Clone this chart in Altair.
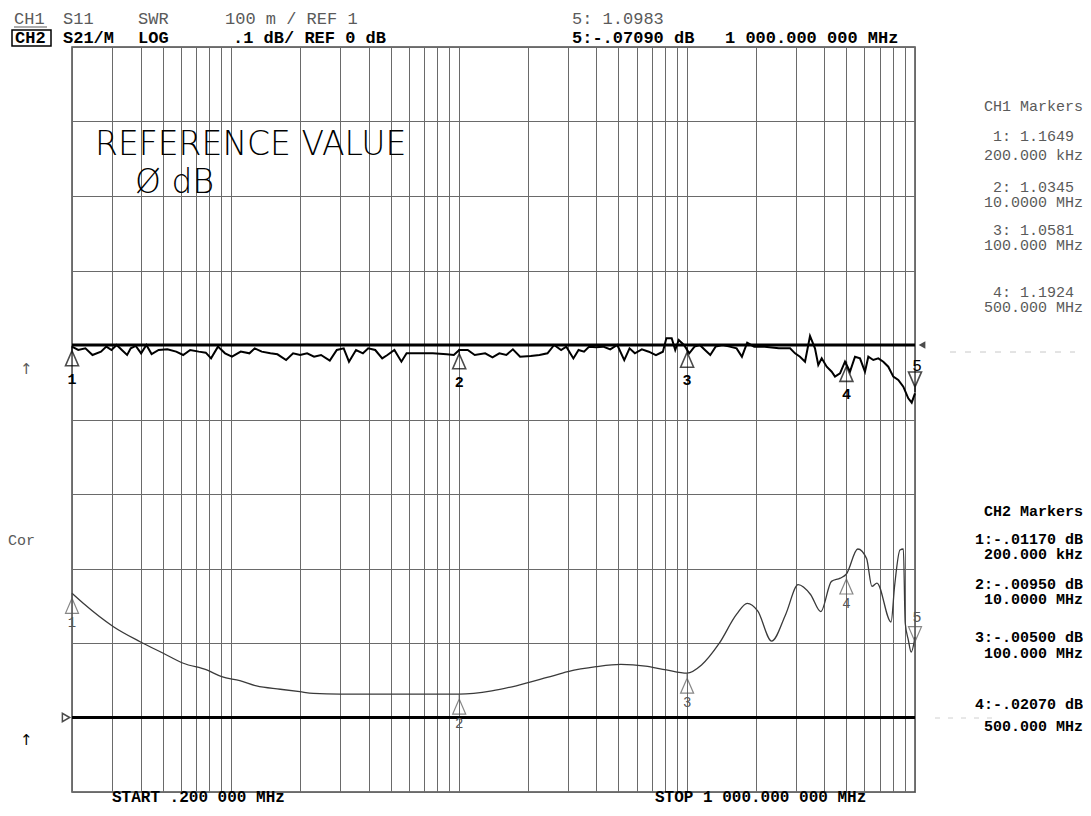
import altair as alt
import pandas as pd

# ---- grid (log frequency, 10 vertical divisions) ----
grid_freqs = [0.2, 0.3, 0.4, 0.5, 0.6, 0.7, 0.8, 0.9, 1, 2, 3, 4, 5, 6, 7, 8, 9,
              10, 20, 30, 40, 50, 60, 70, 80, 90, 100, 200, 300, 400, 500, 600,
              700, 800, 900, 1000]
grid_divs = [0, 1, 2, 3, 4, 5, 6, 7, 8, 9, 10]

# ---- CH1 (S11 SWR) trace: frequency in MHz, position in divisions ----
ch1_freq = [0.200, 0.213, 0.229, 0.246, 0.268, 0.283, 0.298, 0.314, 0.331, 0.349,
            0.362, 0.381, 0.402, 0.424, 0.447, 0.480, 0.524, 0.573, 0.615, 0.660,
            0.720, 0.773, 0.815, 0.874, 0.939, 1.007, 1.100, 1.201, 1.267, 1.360,
            1.485, 1.594, 1.740, 1.867, 2.004, 2.151, 2.308, 2.476, 2.705, 2.904,
            3.113, 3.284, 3.526, 3.781, 3.988, 4.281, 4.594, 4.842, 5.196, 5.577,
            5.877, 6.647, 7.66, 8.82, 9.47, 10.0, 10.9, 11.7, 13.0, 14.0,
            15.0, 16.1, 17.2, 18.5, 20.6, 22.5, 24.4,
            26.1, 28.0, 29.5, 31.7, 33.4, 35.3, 37.2, 39.9, 42.8, 46.0,
            49.4, 53.0, 55.9, 59.0, 63.3, 67.9, 73.0, 78.3, 81.1, 85.6,
            88.7, 91.9, 96.9, 102.2, 107.8, 113.7, 119.8, 126.4, 133.4, 143.1,
            153.7, 164.9, 174.0, 183.5, 197.0, 219.0, 252.6,
            264.4, 283.0, 297.6, 312.9, 329.2, 346.2, 364.0, 376.4, 389.6, 409.8,
            431.0, 445.6, 468.8, 493.0, 518.6, 545.4, 573.6, 603.2, 624.0, 656.2,
            690.2, 726.0, 763.4, 803.0, 844.6, 888.6, 934.4, 967.2, 1000]
ch1_div = [5.978, 5.933, 5.955, 5.866, 5.911, 5.978, 5.933, 6.0, 5.933, 5.866,
           5.955, 5.987, 5.888, 6.0, 5.879, 5.933, 5.942, 5.911, 5.866, 5.933,
           5.911, 5.897, 5.821, 5.978, 5.888, 5.843, 5.911, 5.888, 5.955, 5.911,
           5.888, 5.875, 5.799, 5.888, 5.866, 5.888, 5.843, 5.866, 5.79, 5.933,
           5.955, 5.776, 5.933, 5.888, 5.955, 5.933, 5.821, 5.866, 5.933, 5.776,
           5.888, 5.888, 5.888, 5.875, 5.866, 5.933, 5.933, 5.866, 5.888, 5.834,
           5.888, 5.866, 5.942, 5.843, 5.852, 5.866, 5.888,
           6.0, 5.933, 5.978, 5.82, 5.933, 5.91, 5.978, 5.969, 5.978, 5.942,
           6.0, 5.798, 5.955, 5.888, 5.942, 5.91, 5.865, 5.91, 6.09, 6.09,
           5.933, 6.067, 6.0, 5.888, 5.978, 6.0, 5.933, 5.865, 5.978, 6.0,
           5.978, 5.955, 5.843, 6.03, 5.978, 5.978, 5.955,
           5.955, 5.955, 5.888, 5.843, 5.776, 6.121, 5.955, 5.732, 5.821, 5.709,
           5.642, 5.575, 5.62, 5.776, 5.642, 5.843, 5.821, 5.642, 5.843, 5.799,
           5.821, 5.776, 5.709, 5.575, 5.53, 5.441, 5.284, 5.226, 5.351]

# ---- CH2 (S21/M LOG) trace ----
ch2_freq = [0.200, 0.224, 0.304, 0.398, 0.503, 0.616, 0.78, 0.908, 1.09, 1.29,
            1.64, 2.0, 2.29, 3.0, 5.5, 10.0, 13.9, 17.8, 24.3, 30.0,
            39.9, 51.2, 65.6, 81.1, 100, 115.7, 138, 165, 183.6, 204,
            235, 271, 307, 348, 386, 430, 470, 500, 561, 613,
            647, 681, 785, 814, 859, 889, 906, 935, 962, 1000]
ch2_div = [2.667, 2.533, 2.219, 2.017, 1.862, 1.728, 1.638, 1.548, 1.494, 1.423,
           1.379, 1.346, 1.325, 1.315, 1.315, 1.315, 1.358, 1.426, 1.537, 1.616,
           1.682, 1.713, 1.691, 1.638, 1.595, 1.705, 1.99, 2.387, 2.532, 2.43,
           2.026, 2.387, 2.783, 2.651, 2.421, 2.827, 2.870, 2.926, 3.262, 3.134,
           2.76, 2.805, 2.282, 2.769, 3.248, 3.262, 2.268, 2.04, 1.879, 2.08]

# ---- markers ----
mk_freq = [0.2, 10, 100, 500]
mk_label = ["1", "2", "3", "4"]
ch1_mk_div = [5.99, 5.95, 5.97, 5.78]
ch2_mk_div = [2.667, 1.315, 1.595, 2.926]
mk5_freq = [1000]
mk5_label = ["5"]
ch1_mk5_div = [5.37]
ch2_mk5_div = [1.95]
ref_freq_ch1 = [1000]
ref_freq_ch2 = [0.2]
ref_div_ch1 = [6]
ref_div_ch2 = [1]

ch1_panel = [("CH1 Markers", None), ("1: 1.1649", "200.000 kHz"), ("2: 1.0345", "10.0000 MHz"),
             ("3: 1.0581", "100.000 MHz"), ("4: 1.1924", "500.000 MHz")]
ch2_panel = [("CH2 Markers", None), ("1:-.01170 dB", "200.000 kHz"), ("2:-.00950 dB", "10.0000 MHz"),
             ("3:-.00500 dB", "100.000 MHz"), ("4:-.02070 dB", "500.000 MHz")]

MONO = "Liberation Mono"
X0, Y0 = 72, 47  # page position of the plot area

xs = alt.Scale(type="log", domain=[0.2, 1000], nice=False)
ys = alt.Scale(domain=[0, 10], nice=False, zero=False)
X = alt.X("f:Q", scale=xs, axis=alt.Axis(values=grid_freqs, labels=False, ticks=False,
                                          domain=False, grid=True, title=None))
Y = alt.Y("d:Q", scale=ys, axis=alt.Axis(values=grid_divs, labels=False, ticks=False,
                                          domain=False, grid=True, title=None))

TRI_UP = "M0,-1L0,-0.5M0,-0.5L0.65,1L-0.65,1Z"
TRI_DN = "M0,1L0,0.5M0,0.5L0.65,-1L-0.65,-1Z"

df1 = pd.DataFrame({"f": ch1_freq, "d": ch1_div})
df2 = pd.DataFrame({"f": ch2_freq, "d": ch2_div})
m1 = pd.DataFrame({"f": mk_freq, "d": ch1_mk_div, "t": mk_label})
m2 = pd.DataFrame({"f": mk_freq, "d": ch2_mk_div, "t": mk_label})
m15 = pd.DataFrame({"f": mk5_freq, "d": ch1_mk5_div, "t": mk5_label})
m25 = pd.DataFrame({"f": mk5_freq, "d": ch2_mk5_div, "t": mk5_label})
r1 = pd.DataFrame({"f": ref_freq_ch1, "d": ref_div_ch1})
r2 = pd.DataFrame({"f": ref_freq_ch2, "d": ref_div_ch2})
one = pd.DataFrame({"k": [0]})

layers = []
layers.append(alt.Chart(df1).mark_line(color="black", strokeWidth=2).encode(x=X, y=Y))
layers.append(alt.Chart(df2).mark_line(color="#3a3a3a", strokeWidth=1.3,
                                       interpolate="monotone").encode(x=X, y=Y))
# reference lines
layers.append(alt.Chart(r1).mark_rule(color="black", strokeWidth=3).encode(y=Y))
layers.append(alt.Chart(r2).mark_rule(color="black", strokeWidth=3).encode(y=Y))
layers.append(alt.Chart(r1).mark_point(shape="triangle-left", filled=True, color="black",
                                       size=60, xOffset=7).encode(x=X, y=Y))
layers.append(alt.Chart(r2).mark_point(shape="triangle-right", filled=False, color="black",
                                       strokeWidth=1.5, size=70, xOffset=-6).encode(x=X, y=Y))
# markers CH1
layers.append(alt.Chart(m1).mark_point(shape=TRI_UP, size=400, filled=False, color="black",
                                       strokeWidth=1.6, yOffset=10).encode(x=X, y=Y))
layers.append(alt.Chart(m1).mark_text(dy=33, font=MONO, fontSize=15, fontWeight="bold",
                                      color="black").encode(x=X, y=Y, text="t:N"))
layers.append(alt.Chart(m15).mark_point(shape=TRI_DN, size=400, filled=False, color="black",
                                        strokeWidth=1.6, yOffset=-10).encode(x=X, y=Y))
layers.append(alt.Chart(m15).mark_text(dy=-26, dx=2, font=MONO, fontSize=16,
                                       color="black").encode(x=X, y=Y, text="t:N"))
# markers CH2
layers.append(alt.Chart(m2).mark_point(shape=TRI_UP, size=400, filled=False, color="#555",
                                       strokeWidth=1.2, yOffset=10).encode(x=X, y=Y))
layers.append(alt.Chart(m2).mark_text(dy=30, font=MONO, fontSize=14,
                                      color="#555").encode(x=X, y=Y, text="t:N"))
layers.append(alt.Chart(m25).mark_point(shape=TRI_DN, size=400, filled=False, color="#555",
                                        strokeWidth=1.2, yOffset=-10).encode(x=X, y=Y))
layers.append(alt.Chart(m25).mark_text(dy=-30, dx=2, font=MONO, fontSize=15,
                                       color="#555").encode(x=X, y=Y, text="t:N"))


def txt(s, x, y, size=17, color="black", weight="normal", align="left", font=MONO):
    return alt.Chart(one).mark_text(text=s, align=align, baseline="middle", font=font,
                                    fontSize=size, fontWeight=weight, color=color).encode(
        x=alt.value(x - X0), y=alt.value(y - Y0))


GRAY = "#5a5a5a"
# header
layers += [
    txt("CH1", 14, 19, color=GRAY), txt("S11", 63, 19, color=GRAY), txt("SWR", 138, 19, color=GRAY),
    txt("100 m / REF 1", 225, 19, color=GRAY), txt("5: 1.0983", 572, 19, color=GRAY),
    txt("CH2", 15, 38, weight="bold"), txt("S21/M", 63, 38, weight="bold"),
    txt("LOG", 138, 38, weight="bold"), txt(".1 dB/ REF 0 dB", 233, 38, weight="bold"),
    txt("5:-.07090 dB", 572, 38, weight="bold"), txt("1 000.000 000 MHz", 725, 38, weight="bold"),
]
layers.append(alt.Chart(one).mark_rule(color=GRAY, strokeWidth=1.2).encode(
    x=alt.value(14 - X0), x2=alt.value(47 - X0), y=alt.value(27 - Y0)))
layers.append(alt.Chart(one).mark_rect(filled=False, stroke="black", strokeWidth=1.5).encode(
    x=alt.value(12 - X0), x2=alt.value(51 - X0), y=alt.value(30 - Y0), y2=alt.value(46 - Y0)))

# in-plot annotation
layers.append(txt("REFERENCE VALUE", 95, 145, size=33, weight=200, font="DejaVu Sans"))
layers.append(txt("Ø dB", 135, 183, size=33, weight=200, font="DejaVu Sans"))

# left side
layers += [txt("↑", 20, 369, size=15, color=GRAY, font="DejaVu Sans"),
           txt("↑", 20, 740, size=15, color="black", font="DejaVu Sans"),
           txt("Cor", 8, 540, size=15, color=GRAY)]

# bottom
layers += [txt("START  .200 000 MHz", 112, 797, size=16, weight="bold"),
           txt("STOP 1 000.000 000 MHz", 655, 797, size=16, weight="bold")]

# right marker panels
R = 1083
ch1_y = [106, 136, 155, 187, 202, 230, 245, 292, 307]
ch2_y = [511, 539, 554, 584, 599, 637, 653, 704, 726]
rows1 = [ch1_panel[0][0]] + [s for a, b in ch1_panel[1:] for s in (a, b)]
rows2 = [ch2_panel[0][0]] + [s for a, b in ch2_panel[1:] for s in (a, b)]
for i, (s, yy) in enumerate(zip(rows1, ch1_y)):
    rx = R - 9 if (i % 2 == 1) else R
    layers.append(txt(s, rx, yy, size=15, color=GRAY, align="right"))
for s, yy in zip(rows2, ch2_y):
    layers.append(txt(s, R, yy, size=15, weight="bold", align="right"))

# faint continuation dots at the reference levels
layers.append(alt.Chart(one).mark_rule(color="#c8c8c8", strokeWidth=1, strokeDash=[6, 9]).encode(
    x=alt.value(950 - X0), x2=alt.value(1075 - X0), y=alt.value(352 - Y0)))
layers.append(alt.Chart(one).mark_rule(color="#d0d0d0", strokeWidth=1, strokeDash=[5, 8]).encode(
    x=alt.value(935 - X0), x2=alt.value(1000 - X0), y=alt.value(718 - Y0)))

chart = alt.layer(*layers).properties(
    width=843, height=745,
    padding={"left": 64, "top": 39, "right": 168, "bottom": 16},
    autosize=alt.AutoSizeParams(type="none"),
    background="white",
).configure_view(stroke="#4a4a4a", strokeWidth=1.5).configure_axis(
    gridColor="#6a6a6a", gridWidth=1, gridOpacity=1)

chart.save("out.html", embed_options={"renderer": "svg", "actions": False})
